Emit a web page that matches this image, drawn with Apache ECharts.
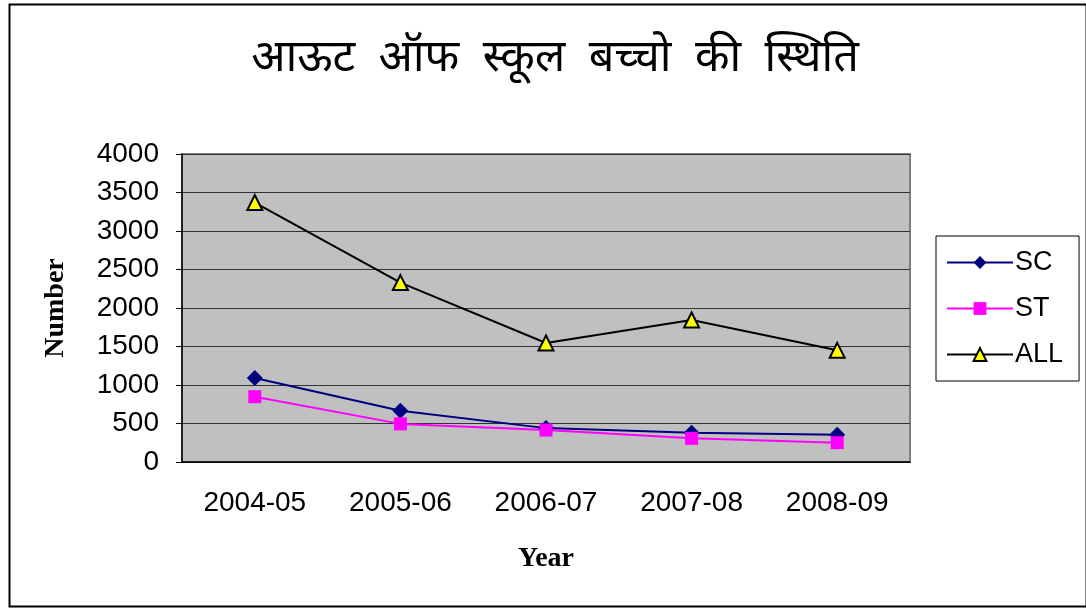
<!DOCTYPE html>
<html>
<head>
<meta charset="utf-8">
<script src="https://cdn.jsdelivr.net/npm/echarts@6/dist/echarts.min.js"></script>
<style>
  html, body { margin: 0; padding: 0; background: #fff; }
  #chart { width: 1086px; height: 608px; }
</style>
</head>
<body>
<div id="chart"></div>
<script>
const years = ['2004-05', '2005-06', '2006-07', '2007-08', '2008-09']
const scData = [1090, 665, 440, 380, 355]
const stData = [848, 495, 415, 307, 251]
const allData = [3370, 2330, 1545, 1845, 1450]

const chart = echarts.init(document.getElementById('chart'))
const arial = 'Arial, "Liberation Sans", sans-serif'
const serif = '"Times New Roman", "Liberation Serif", serif'

chart.setOption({
  animation: false,
  backgroundColor: '#fff',
  graphic: [{
    type: 'rect', left: 7, top: 2, z: -1,
    shape: { width: 1077, height: 602 },
    style: { fill: 'none', stroke: '#000', lineWidth: 2 }
  }],
  title: {
    text: 'आऊट  ऑफ  स्कूल  बच्चो  की  स्थिति',
    left: 550, top: 35, textAlign: 'center',
    textStyle: { fontSize: 45, fontWeight: 'normal', color: '#000', fontFamily: '"Noto Sans Devanagari", "Noto Sans", sans-serif' }
  },
  legend: {
    orient: 'vertical',
    left: 936, top: 236,
    padding: [13, 16, 13, 10],
    itemGap: 19,
    itemWidth: 66, itemHeight: 16,
    borderColor: '#000', borderWidth: 1,
    textStyle: { fontSize: 27, color: '#000', fontFamily: arial, padding: [0, 0, 0, -3] },
    data: ['SC', 'ST', 'ALL']
  },
  grid: {
    left: 182, top: 154, right: 176, bottom: 146,
    show: true, backgroundColor: '#C0C0C0', borderColor: '#808080', borderWidth: 2
  },
  xAxis: {
    type: 'category',
    data: years,
    name: 'Year',
    nameLocation: 'middle',
    nameGap: 83,
    nameTextStyle: { fontSize: 28, fontWeight: 'bold', fontFamily: serif, color: '#000' },
    axisLine: { lineStyle: { color: '#000', width: 1.5 } },
    axisTick: { length: 7, lineStyle: { color: '#000' } },
    axisLabel: { fontSize: 28, color: '#000', fontFamily: arial, margin: 27 }
  },
  yAxis: {
    type: 'value',
    min: 0, max: 4000, interval: 500,
    name: 'Number',
    nameLocation: 'middle',
    nameGap: 112,
    nameTextStyle: { fontSize: 28, fontWeight: 'bold', fontFamily: serif, color: '#000' },
    axisLine: { show: true, lineStyle: { color: '#000', width: 1.5 } },
    axisTick: { show: true, length: 6, lineStyle: { color: '#000' } },
    axisLabel: { fontSize: 28, color: '#000', fontFamily: arial, margin: 23, formatter: v => String(v) },
    splitLine: { lineStyle: { color: '#333', width: 1 } }
  },
  series: [
    {
      name: 'SC', type: 'line', data: scData,
      symbol: 'diamond', symbolSize: 16,
      lineStyle: { color: '#000080', width: 2 },
      itemStyle: { color: '#000080' }
    },
    {
      name: 'ST', type: 'line', data: stData,
      symbol: 'rect', symbolSize: 13,
      lineStyle: { color: '#FF00FF', width: 2 },
      itemStyle: { color: '#FF00FF' }
    },
    {
      name: 'ALL', type: 'line', data: allData,
      symbol: 'triangle', symbolSize: 15,
      lineStyle: { color: '#000', width: 2 },
      itemStyle: { color: '#FFFF00', borderColor: '#000', borderWidth: 2 }
    }
  ]
})
</script>
</body>
</html>
